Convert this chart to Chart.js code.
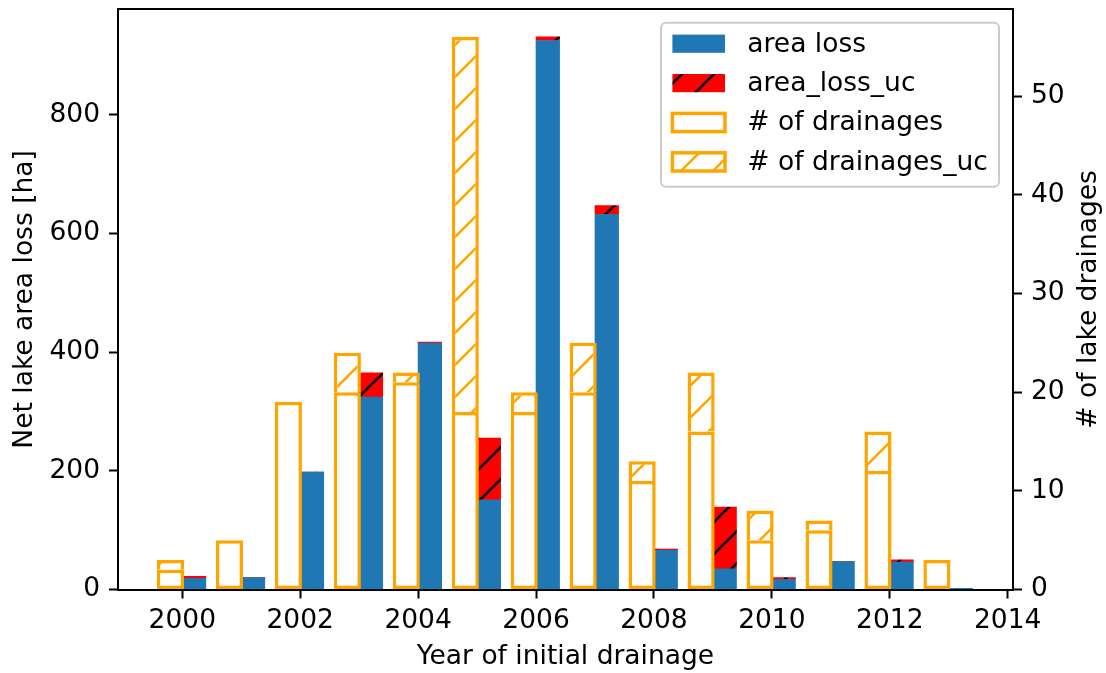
<!DOCTYPE html>
<html>
<head>
<meta charset="utf-8">
<script src="https://cdn.jsdelivr.net/npm/chart.js@4/dist/chart.umd.min.js"></script>
<style>
  html, body { margin: 0; padding: 0; background: #fff; }
  #wrap { width: 1106px; height: 673px; position: relative; }
</style>
</head>
<body>
<div id="wrap"><canvas id="c"></canvas></div>
<script>
// ---------------- data ----------------
const years        = [2000, 2001, 2002, 2003, 2004, 2005, 2006, 2007, 2008, 2009, 2010, 2011, 2012, 2013];
const areaLoss     = [19, 20, 198, 324, 415, 151, 925, 632, 66, 35, 17, 47, 46, 2];
const areaLossUc   = [3, 0, 0, 41, 2, 104, 6, 15, 2, 104, 3, 0, 4, 0];
const drainages    = [2, 5, 19, 20, 21, 18, 18, 20, 11, 16, 5, 6, 12, 3];
const drainagesUc  = [1, 0, 0, 4, 1, 38, 2, 5, 2, 6, 3, 1, 4, 0];
const xTickValues  = [2000, 2002, 2004, 2006, 2008, 2010, 2012, 2014];
const yTickValues  = [0, 200, 400, 600, 800];
const y2TickValues = [0, 10, 20, 30, 40, 50];
const labels = {
  area: 'area loss', areaUc: 'area_loss_uc',
  drain: '# of drainages', drainUc: '# of drainages_uc',
  x: 'Year of initial drainage', y: 'Net lake area loss [ha]', y2: '# of lake drainages'
};

// ---------------- geometry / style ----------------
const BAR_W = 0.4, AREA_SHIFT = 0.2, DRAIN_SHIFT = -0.2;
const EDGE_LW = 3.5;
const BLUE = '#1f77b4', ORANGE = '#ffa500', RED = '#ff0000';
const FONT = "'DejaVu Sans', 'Liberation Sans', sans-serif";
const FS = 26.5;
const AREA = { left: 118, right: 1013, top: 9.3, bottom: 589.5 };

const toPts = (vals, shift) => years.map((yr, i) => ({ x: yr + shift, y: vals[i] }));
const totals = (a, b) => a.map((v, i) => v + b[i]);

const xLo = years[0] + DRAIN_SHIFT - BAR_W / 2;
const xHi = years[years.length - 1] + AREA_SHIFT + BAR_W / 2;
const xPad = 0.05 * (xHi - xLo);
const yMax = 1.05 * Math.max(...totals(areaLoss, areaLossUc));
const y2Max = 1.05 * Math.max(...totals(drainages, drainagesUc));

Chart.defaults.font.family = FONT;
Chart.defaults.font.size = FS;
Chart.defaults.color = '#000';

const cv = document.getElementById('c');
const ctx = cv.getContext('2d');

function hatch(bg, fg) {
  const P = 32;
  const c = document.createElement('canvas');
  c.width = c.height = P;
  const g = c.getContext('2d');
  g.fillStyle = bg; g.fillRect(0, 0, P, P);
  g.strokeStyle = fg; g.lineWidth = 2.6;
  g.beginPath();
  for (const k of [0, P, 2 * P]) { g.moveTo(k - 2 * P, 2 * P); g.lineTo(k + 2 * P, -2 * P); }
  g.stroke();
  const pat = ctx.createPattern(c, 'repeat');
  pat.setTransform(new DOMMatrix([1, 0, 0, 1, 20, 0]));
  return pat;
}
const redHatch = hatch(RED, '#000');
const orangeHatch = hatch('#ffffff', ORANGE);

const PX_PER_YEAR = (AREA.right - AREA.left) / (xHi + xPad - (xLo - xPad));
const orangePct = (BAR_W * PX_PER_YEAR + EDGE_LW) / (BAR_W * PX_PER_YEAR);

const common = { grouped: false, categoryPercentage: 1 };

const decor = {
  id: 'decor',
  afterDraw(chart) {
    const { ctx: g, chartArea: a } = chart;
    g.save();
    // top spine
    g.strokeStyle = '#000'; g.lineWidth = 2;
    g.beginPath(); g.moveTo(a.left - 1, Math.round(a.top)); g.lineTo(a.right + 1, Math.round(a.top)); g.stroke();
    // right axis title (reads bottom-to-top like matplotlib)
    g.save();
    g.font = FS + 'px ' + FONT; g.fillStyle = '#000';
    g.textAlign = 'center'; g.textBaseline = 'middle';
    g.translate(1089, (a.top + a.bottom) / 2);
    g.rotate(-Math.PI / 2);
    g.fillText(labels.y2, 0, 0);
    g.restore();

    // legend
    const w = 338, h = 164;
    const x0 = a.right - 14 - w, y0 = a.top + 13.4;
    g.beginPath();
    if (g.roundRect) g.roundRect(x0, y0, w, h, 5); else g.rect(x0, y0, w, h);
    g.fillStyle = 'rgba(255,255,255,0.8)'; g.fill();
    g.strokeStyle = '#cccccc'; g.lineWidth = 2; g.stroke();
    const ds = chart.data.datasets;
    const order = [2, 3, 0, 1];
    order.forEach((di, i) => {
      const d = ds[di];
      const cy = y0 + 21 + i * 39.4;
      const hx = x0 + 11.4, hw = 52.6, hh = 18.2;
      g.fillStyle = d.backgroundColor;
      g.fillRect(hx, cy - hh / 2, hw, hh);
      if (d.borderWidth) {
        g.strokeStyle = d.borderColor; g.lineWidth = EDGE_LW;
        g.strokeRect(hx, cy - hh / 2, hw, hh);
      }
      g.fillStyle = '#000'; g.font = FS + 'px ' + FONT;
      g.textAlign = 'left'; g.textBaseline = 'middle';
      g.fillText(d.label, x0 + 86.3, cy + 1);
    });
    g.restore();
  }
};

const tickGrid = { display: true, drawOnChartArea: false, drawTicks: true, tickLength: 9, tickWidth: 2, tickColor: '#000' };
const border = { display: true, color: '#000', width: 2 };
const noVPad = s => { s.paddingTop = 0; s.paddingBottom = 0; };

new Chart(ctx, {
  type: 'bar',
  data: {
    datasets: [
      Object.assign({ label: labels.drain, data: toPts(drainages, DRAIN_SHIFT), yAxisID: 'y2', stack: 'drain',
        backgroundColor: '#ffffff', borderColor: ORANGE, borderWidth: EDGE_LW, borderSkipped: false,
        barPercentage: orangePct }, common),
      Object.assign({ label: labels.drainUc, data: toPts(drainagesUc, DRAIN_SHIFT), yAxisID: 'y2', stack: 'drain',
        backgroundColor: orangeHatch, borderColor: ORANGE, borderWidth: EDGE_LW, borderSkipped: 'bottom',
        barPercentage: orangePct }, common),
      Object.assign({ label: labels.area, data: toPts(areaLoss, AREA_SHIFT), yAxisID: 'y', stack: 'area',
        backgroundColor: BLUE, borderWidth: 0, barPercentage: 1 }, common),
      Object.assign({ label: labels.areaUc, data: toPts(areaLossUc, AREA_SHIFT), yAxisID: 'y', stack: 'area',
        backgroundColor: redHatch, borderWidth: 0, barPercentage: 1 }, common)
    ]
  },
  options: {
    responsive: true,
    maintainAspectRatio: false,
    animation: false,
    devicePixelRatio: 1,
    events: [],
    layout: { padding: { top: AREA.top, left: 0, right: 0, bottom: 0 } },
    plugins: { legend: { display: false }, tooltip: { enabled: false }, title: { display: false } },
    scales: {
      x: {
        type: 'linear', min: xLo - xPad, max: xHi + xPad, offset: false, z: 1,
        grid: Object.assign({ offset: false }, tickGrid), border,
        ticks: { color: '#000', font: { size: FS }, padding: 7, maxRotation: 0, autoSkip: false, includeBounds: false,
                 callback: v => String(v) },
        afterBuildTicks: s => { s.ticks = xTickValues.map(v => ({ value: v })); },
        afterFit: s => { s.height = 673 - AREA.bottom; s.paddingLeft = 0; s.paddingRight = 0; },
        title: { display: true, text: labels.x, color: '#000', font: { size: FS }, padding: { top: 0, bottom: 0 } }
      },
      y: {
        type: 'linear', position: 'left', min: 0, max: yMax, stacked: true, z: 1,
        grid: tickGrid, border,
        ticks: { color: '#000', font: { size: FS }, padding: 9, includeBounds: false, callback: v => String(v) },
        afterBuildTicks: s => { s.ticks = yTickValues.map(v => ({ value: v })); },
        afterFit: s => { s.width = AREA.left; noVPad(s); },
        title: { display: true, text: labels.y, color: '#000', font: { size: FS }, padding: { top: 9, bottom: 0 } }
      },
      y2: {
        type: 'linear', position: 'right', min: 0, max: y2Max, stacked: true, z: 1,
        grid: tickGrid, border,
        ticks: { color: '#000', font: { size: FS }, padding: 9, includeBounds: false, callback: v => String(v) },
        afterBuildTicks: s => { s.ticks = y2TickValues.map(v => ({ value: v })); },
        afterFit: s => { s.width = 1106 - AREA.right; noVPad(s); }
      }
    }
  },
  plugins: [decor]
});
</script>
</body>
</html>
